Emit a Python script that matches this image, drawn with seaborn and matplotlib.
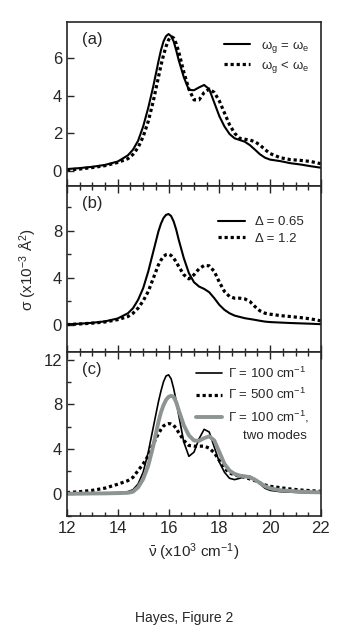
import pandas as pd
import seaborn as sns
import matplotlib.pyplot as plt

##########
## Data ##
##########

wavenumber = [12.0, 12.5, 13.0, 13.5, 14.0, 14.4, 14.6, 14.8, 15.0, 15.2, 15.4, 15.6, 15.7, 15.8, 15.9,
              16.0, 16.1, 16.2, 16.3, 16.4, 16.6, 16.8, 17.0, 17.2, 17.4, 17.6, 17.8, 18.0, 18.2, 18.4,
              18.6, 18.8, 19.0, 19.2, 19.4, 19.6, 19.8, 20.0, 20.4, 20.8, 21.2, 21.6, 22.0]

# panel (a)
a_equal = [0.10, 0.15, 0.22, 0.32, 0.50, 0.83, 1.13, 1.60, 2.36, 3.35, 4.50, 5.80, 6.40, 6.87, 7.15,
           7.26, 7.15, 6.87, 6.40, 5.87, 4.97, 4.30, 4.28, 4.43, 4.56, 4.34, 3.62, 2.90, 2.36, 1.96,
           1.73, 1.64, 1.55, 1.37, 1.13, 0.88, 0.70, 0.60, 0.52, 0.41, 0.34, 0.25, 0.17]
a_less = [0.05, 0.10, 0.18, 0.28, 0.45, 0.65, 0.88, 1.24, 1.82, 2.63, 3.71, 4.97, 5.60, 6.14, 6.60,
          6.95, 7.13, 7.05, 6.75, 6.32, 5.24, 4.34, 3.77, 3.77, 4.16, 4.34, 4.16, 3.71, 3.08, 2.45,
          2.00, 1.73, 1.68, 1.64, 1.55, 1.37, 1.13, 0.92, 0.70, 0.60, 0.56, 0.50, 0.38]

# panel (b)
b_065 = [0.05, 0.10, 0.18, 0.30, 0.55, 0.99, 1.42, 2.13, 3.12, 4.54, 6.24, 7.94, 8.60, 9.08, 9.35,
         9.42, 9.25, 8.79, 8.10, 7.23, 5.67, 4.40, 3.63, 3.26, 3.06, 2.78, 2.27, 1.70, 1.28, 0.99,
         0.79, 0.68, 0.57, 0.50, 0.43, 0.35, 0.28, 0.24, 0.20, 0.16, 0.13, 0.10, 0.06]
b_12 = [0.03, 0.08, 0.15, 0.25, 0.45, 0.71, 0.99, 1.42, 2.04, 2.84, 3.97, 5.10, 5.50, 5.82, 5.97,
        6.01, 5.90, 5.67, 5.35, 4.96, 4.26, 3.91, 4.26, 4.77, 5.05, 5.02, 4.54, 3.63, 2.84, 2.41,
        2.27, 2.27, 2.21, 1.99, 1.56, 1.19, 0.99, 0.91, 0.79, 0.71, 0.62, 0.51, 0.34]

# panel (c)
c_100 = [0.00, 0.02, 0.04, 0.06, 0.10, 0.18, 0.36, 0.87, 1.92, 3.72, 5.98, 8.23, 9.20, 10.03, 10.55,
         10.65, 10.30, 9.43, 8.30, 7.03, 4.62, 3.35, 3.72, 4.92, 5.77, 5.53, 4.17, 2.82, 1.92, 1.38,
         1.26, 1.38, 1.56, 1.56, 1.32, 0.87, 0.48, 0.30, 0.18, 0.14, 0.10, 0.08, 0.06]
c_500 = [0.10, 0.18, 0.30, 0.50, 0.85, 1.17, 1.47, 2.07, 2.67, 3.42, 4.47, 5.38, 5.75, 6.07, 6.22,
         6.28, 6.25, 6.13, 5.85, 5.47, 4.77, 4.32, 4.26, 4.26, 4.26, 4.08, 3.66, 2.97, 2.28, 1.86,
         1.68, 1.56, 1.47, 1.32, 1.17, 0.96, 0.78, 0.66, 0.54, 0.42, 0.33, 0.27, 0.21]
c_two = [0.00, 0.00, 0.02, 0.03, 0.05, 0.08, 0.18, 0.57, 1.32, 2.52, 4.32, 6.43, 7.30, 7.93, 8.40,
         8.68, 8.77, 8.68, 8.20, 7.48, 6.13, 5.23, 4.77, 4.74, 4.98, 5.14, 4.77, 3.72, 2.67, 2.07,
         1.77, 1.62, 1.56, 1.47, 1.26, 0.96, 0.66, 0.48, 0.30, 0.24, 0.18, 0.14, 0.12]

df = pd.DataFrame({'nu': wavenumber, 'a_equal': a_equal, 'a_less': a_less,
                   'b_065': b_065, 'b_12': b_12,
                   'c_100': c_100, 'c_500': c_500, 'c_two': c_two})

###########
## Style ##
###########

sns.set_style('ticks')
plt.rcParams['font.family'] = ['Liberation Sans', 'DejaVu Sans']
plt.rcParams['mathtext.fontset'] = 'custom'
plt.rcParams['mathtext.rm'] = 'Liberation Sans'
plt.rcParams['mathtext.it'] = 'Liberation Sans'
plt.rcParams['axes.linewidth'] = 1.2

DOT = (0, (1, 0.9))
GRAY = '#8c9494'

fig = plt.figure(figsize=(3.47, 6.43), dpi=100)
ax_a = fig.add_axes([0.193, 0.7107, 0.732, 0.2551])
ax_b = fig.add_axes([0.193, 0.4526, 0.732, 0.2581])
ax_c = fig.add_axes([0.193, 0.1975, 0.732, 0.2551])

sns.lineplot(data=df, x='nu', y='a_equal', ax=ax_a, color='k', lw=1.5,
             label=r'ω$_\mathregular{g}$ = ω$_\mathregular{e}$')
sns.lineplot(data=df, x='nu', y='a_less', ax=ax_a, color='k', lw=2.3, linestyle=DOT,
             label=r'ω$_\mathregular{g}$ < ω$_\mathregular{e}$')

sns.lineplot(data=df, x='nu', y='b_065', ax=ax_b, color='k', lw=1.5, label='Δ = 0.65')
sns.lineplot(data=df, x='nu', y='b_12', ax=ax_b, color='k', lw=2.3, linestyle=DOT, label='Δ = 1.2')

sns.lineplot(data=df, x='nu', y='c_100', ax=ax_c, color='k', lw=1.2,
             label=r'Γ = 100 cm$^\mathregular{-1}$')
sns.lineplot(data=df, x='nu', y='c_500', ax=ax_c, color='k', lw=2.3, linestyle=DOT,
             label=r'Γ = 500 cm$^\mathregular{-1}$')
sns.lineplot(data=df, x='nu', y='c_two', ax=ax_c, color=GRAY, lw=2.8,
             label=r'Γ = 100 cm$^\mathregular{-1}$,')

ylims = {ax_a: (-0.8, 7.9), ax_b: (-2.3, 11.8), ax_c: (-2.0, 12.7)}
yticks = {ax_a: ([0, 2, 4, 6], []), ax_b: ([0, 4, 8], [2, 6, 10]), ax_c: ([0, 4, 8, 12], [-2, 2, 6, 10])}

for ax, tag in [(ax_a, '(a)'), (ax_b, '(b)'), (ax_c, '(c)')]:
    ax.set_xlim(12, 22)
    ax.set_ylim(*ylims[ax])
    ax.set_xticks([12, 14, 16, 18, 20, 22])
    ax.set_xticks([v / 2 for v in range(24, 45)], minor=True)
    ax.set_yticks(yticks[ax][0])
    ax.set_yticks(yticks[ax][1], minor=True)
    ax.tick_params(which='both', direction='in', top=(ax is not ax_a), right=False,
                   labelsize=12, width=1)
    ax.tick_params(which='major', length=5)
    ax.tick_params(which='minor', length=3)
    ax.set_xlabel('')
    ax.set_ylabel('')
    ax.text(0.06, 0.94, tag, transform=ax.transAxes, ha='left', va='top', fontsize=12)
    if ax is not ax_c:
        ax.tick_params(labelbottom=False)

leg_a = ax_a.legend(loc='upper right', bbox_to_anchor=(1.0, 0.97), frameon=False, fontsize=9.5,
                    handlelength=2.0, handletextpad=0.8, labelspacing=0.3)
leg_b = ax_b.legend(loc='upper right', bbox_to_anchor=(0.98, 0.89), frameon=False, fontsize=9.5,
                    handlelength=2.0, handletextpad=0.8, labelspacing=0.3)
leg_c = ax_c.legend(loc='upper right', bbox_to_anchor=(1.0, 0.99), frameon=False, fontsize=9.5,
                    handlelength=2.0, handletextpad=0.4, labelspacing=0.5)
# second line of the third legend entry sits under its text, not beside the handle
ax_c.text(0.945, 0.485, 'two modes', transform=ax_c.transAxes, ha='right', va='center', fontsize=9.5)

ax_c.set_xlabel(r'$\bar{\nu}$ (x10$^\mathregular{3}$ cm$^\mathregular{-1}$)', fontsize=11, labelpad=4)
ax_b.set_ylabel(r'σ (x10$^\mathregular{-3}$ Å$^\mathregular{2}$)', fontsize=11, labelpad=10)

fig.text(184 / 347, 1 - 618 / 643, 'Hayes, Figure 2', ha='center', va='center', fontsize=10)

plt.savefig('out.png', dpi=100)
